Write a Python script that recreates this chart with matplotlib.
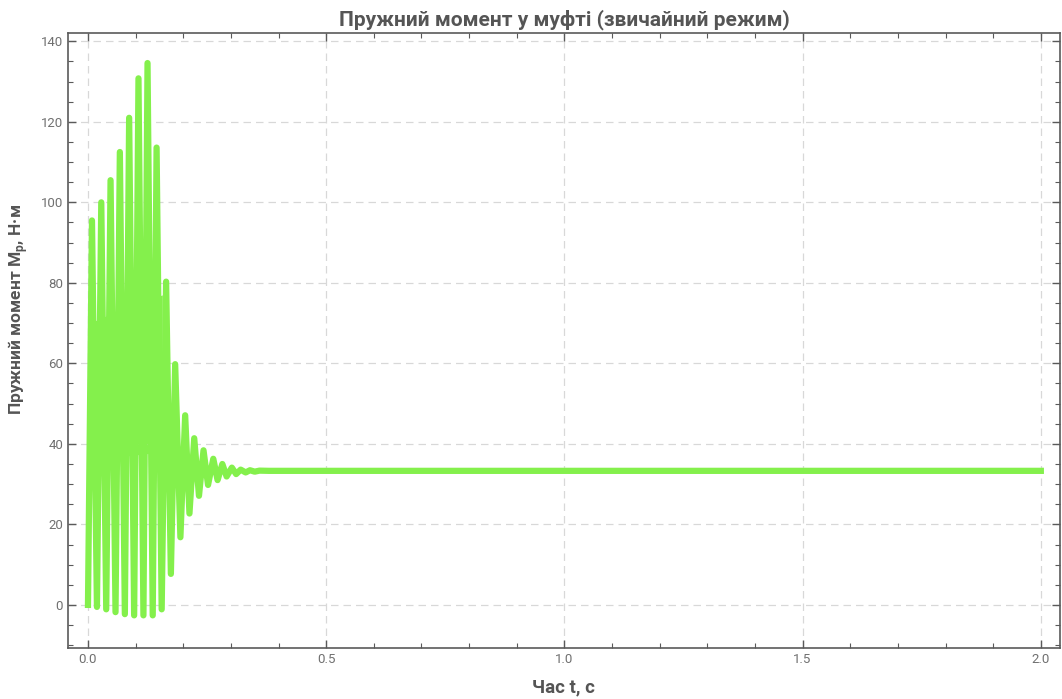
import matplotlib.pyplot as plt
from matplotlib.ticker import MultipleLocator

plt.rcParams['font.family'] = ['Roboto', 'DejaVu Sans']
plt.rcParams['mathtext.fontset'] = 'custom'
plt.rcParams['mathtext.rm'] = 'Roboto'
plt.rcParams['mathtext.bf'] = 'Roboto:bold'

# extrema of the spring torque (t in s, M in N*m)
peak_t = [0.0084, 0.0279, 0.0474, 0.0669, 0.0864, 0.106, 0.125, 0.144, 0.164,
          0.183, 0.204, 0.223, 0.2425, 0.263, 0.282, 0.302, 0.3205, 0.340, 0.360]
peak_m = [95.5, 100.0, 105.5, 112.5, 121.0, 130.8, 134.6, 113.6, 80.3,
          59.8, 47.1, 41.4, 38.4, 36.3, 35.0, 34.1, 33.6, 33.45, 33.35]
trough_t = [0.0, 0.0188, 0.0383, 0.0578, 0.0774, 0.0969, 0.1164, 0.1359, 0.1547,
            0.174, 0.194, 0.213, 0.233, 0.252, 0.272, 0.291, 0.311, 0.331, 0.350]
trough_m = [0.0, -0.5, -1.1, -1.8, -2.3, -2.6, -2.6, -2.6, -1.1,
            7.7, 16.8, 22.7, 27.1, 29.8, 31.0, 31.9, 32.5, 32.9, 33.1]
steady_t = [0.38, 2.0]
steady_m = [33.3, 33.3]

# the dense, fully covered part of the fast oscillation
band_t = [0.004, 0.08, 0.156]
band_lo = [38, 37, 38]
band_hi = [70, 74, 77]

t = []
m = []
for i in range(len(trough_t)):
    t += [trough_t[i], peak_t[i]]
    m += [trough_m[i], peak_m[i]]
t += steady_t
m += steady_m

green = '#84F04C'
grey = '#5a5a5a'
fig = plt.figure(figsize=(10.62, 6.99), dpi=100)
ax = fig.add_axes([0.064, 0.073, 0.934, 0.88])
ax.fill_between(band_t, band_lo, band_hi, color=green, lw=0)
ax.plot(t, m, color=green, lw=4.5, solid_joinstyle='round')

ax.set_xlim(-0.042, 2.04)
ax.set_ylim(-10.7, 142.1)
ax.xaxis.set_major_locator(MultipleLocator(0.5))
ax.xaxis.set_minor_locator(MultipleLocator(0.1))
ax.yaxis.set_major_locator(MultipleLocator(20))
ax.yaxis.set_minor_locator(MultipleLocator(5))
ax.xaxis.set_major_formatter(plt.FuncFormatter(lambda v, p: f'{v:.1f}'))
ax.tick_params(which='both', direction='in', top=True, right=True,
               colors=grey, labelcolor='#707070', labelsize=9.5)
ax.tick_params(which='major', length=6, width=1)
ax.tick_params(which='minor', length=3.5, width=0.8)
for s in ax.spines.values():
    s.set_color(grey)
    s.set_linewidth(1.2)
ax.grid(True, which='major', ls=(0, (6, 4)), color='#d8d8d8', lw=0.9)

ax.set_title('Пружний момент у муфті (звичайний режим)', fontsize=15,
             fontweight='bold', color='#555555', pad=5)
ax.set_xlabel('Час t, с', fontsize=13.5, fontweight='bold', color='#555555',
              va='top')
ax.set_ylabel(r'Пружний момент M$_\mathbf{p}$, Н·м', fontsize=12.5,
              fontweight='bold', color='#555555')
ax.xaxis.set_label_coords(0.5, -0.05)
ax.yaxis.set_label_coords(-0.038, 0.551)

fig.savefig('out.png', dpi=100)
